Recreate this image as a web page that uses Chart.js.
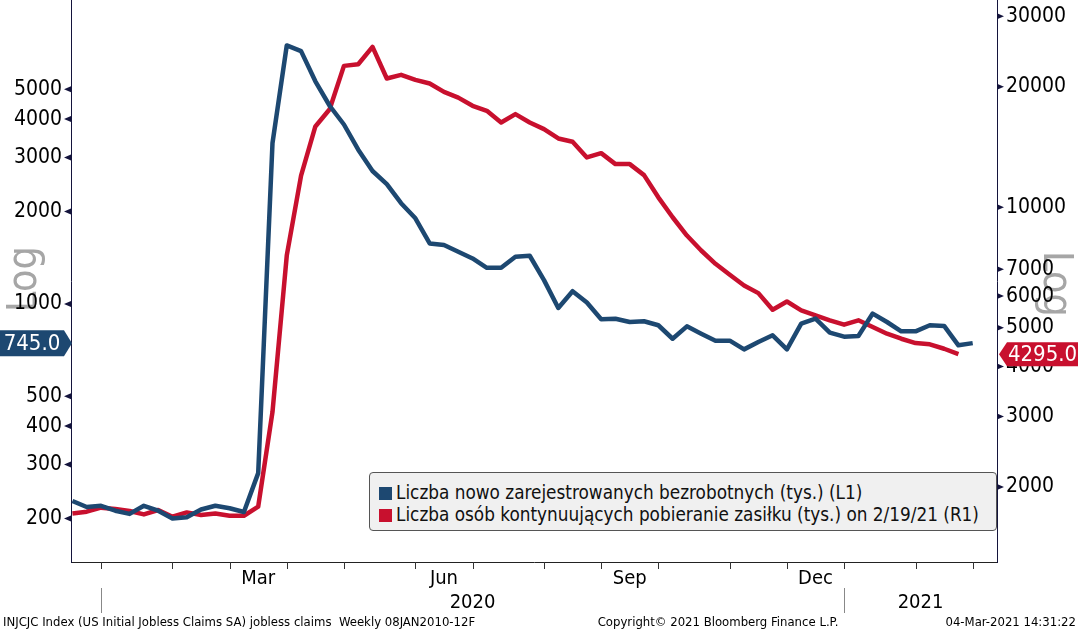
<!DOCTYPE html>
<html>
<head>
<meta charset="utf-8">
<script src="https://cdn.jsdelivr.net/npm/chart.js@4.4.1/dist/chart.umd.min.js"></script>
<style>
    body { margin: 0; background: #fff; }
    #wrap { position: relative; width: 1078px; height: 632px; }
    .legend {
        position: absolute; left: 369px; top: 472px; width: 626px; height: 57px;
        background: #f0f0f0; border: 1px solid #555; border-radius: 4px;
        font: 18.8px "DejaVu Sans Condensed", "DejaVu Sans", sans-serif; color: #111;
    }
    .legend div { position: absolute; left: 9px; white-space: nowrap; line-height: 20px; }
    .legend span { display: inline-block; width: 13px; height: 13px; margin-right: 4px; vertical-align: -1px; }
</style>
</head>
<body>
<div id="wrap">
    <canvas id="chart" width="1078" height="632"></canvas>
    <div class="legend" id="legend"></div>
</div>
<script>
document.addEventListener('DOMContentLoaded', () => {
    // weekly values, thousands (week dates are Fridays, starting 20 Dec 2019)
    const initialClaims = [
        228, 218, 220, 212, 207, 220, 212, 200, 202, 214, 220, 216, 210, 281,
        3340, 6950, 6660, 5310, 4420, 3840, 3180, 2710, 2455, 2128, 1900, 1574,
        1555, 1479, 1406, 1311, 1311, 1424, 1435, 1195, 970, 1100, 1010, 891,
        895, 873, 878, 852, 770, 845, 800, 759, 759, 711, 751, 790, 711, 862,
        896, 806, 782, 786, 930, 873, 814, 814, 852, 848, 733, 745
    ];
    const continuingClaims = [
        1718, 1735, 1776, 1762, 1742, 1708, 1752, 1686, 1728, 1702, 1718, 1695, 1695, 1786,
        3080, 7580, 12000, 15920, 17580, 22560, 22770, 25160, 20980, 21430, 20820, 20380,
        19430, 18800, 17930, 17420, 16290, 17090, 16290, 15680, 14860, 14580, 13325, 13655,
        12820, 12820, 12035, 10590, 9443, 8500, 7798, 7223, 6780, 6378, 6102, 5545, 5815,
        5527, 5370, 5218, 5088, 5218, 5020, 4831, 4694, 4579, 4545, 4431, 4295
    ];
    const leftTicks = [200, 300, 400, 500, 1000, 2000, 3000, 4000, 5000];
    const rightTicks = [2000, 3000, 4000, 5000, 6000, 7000, 10000, 20000, 30000];
    const monthNames = ['Jan', 'Feb', 'Mar', 'Apr', 'May', 'Jun', 'Jul', 'Aug', 'Sep', 'Oct', 'Nov', 'Dec'];
    const labeledMonths = ['Mar', 'Jun', 'Sep', 'Dec'];
    const seriesNames = [
        'Liczba nowo zarejestrowanych bezrobotnych (tys.) (L1)',
        'Liczba osób kontynuujących pobieranie zasiłku (tys.) on 2/19/21 (R1)'
    ];
    const footerLeft = 'INJCJC Index (US Initial Jobless Claims SA) jobless claims  Weekly 08JAN2010-12F';
    const footerMid = 'Copyright\u00A9 2021 Bloomberg Finance L.P.';
    const footerRight = '04-Mar-2021 14:31:22';

    const BLUE = '#1d4871';
    const RED = '#c8102e';
    const AXIS = '#14143c';
    const FONT = '"DejaVu Sans Condensed", "DejaVu Sans", sans-serif';

    const firstWeek = Date.UTC(2019, 11, 20);
    const weeks = initialClaims.map((_, i) => new Date(firstWeek + i * 7 * 86400000));

    // first week of each month
    const monthStarts = [];
    for (let i = 1; i < weeks.length; i++) {
        if (weeks[i].getUTCMonth() !== weeks[i - 1].getUTCMonth()) {
            monthStarts.push({ i, month: weeks[i].getUTCMonth(), year: weeks[i].getUTCFullYear() });
        }
    }

    // legend
    const legend = document.getElementById('legend');
    [BLUE, RED].forEach((c, k) => {
        const row = document.createElement('div');
        row.style.top = (10 + k * 22) + 'px';
        row.innerHTML = '<span style="background:' + c + '"></span>' + seriesNames[k];
        legend.appendChild(row);
    });

    function badge(ctx, x0, x1, tip, yc, h, color, text) {
        ctx.save();
        ctx.fillStyle = color;
        ctx.beginPath();
        if (tip > x1) {
            ctx.moveTo(x0, yc - h / 2); ctx.lineTo(x1, yc - h / 2); ctx.lineTo(tip, yc);
            ctx.lineTo(x1, yc + h / 2); ctx.lineTo(x0, yc + h / 2);
        } else {
            ctx.moveTo(x1, yc - h / 2); ctx.lineTo(x0, yc - h / 2); ctx.lineTo(tip, yc);
            ctx.lineTo(x0, yc + h / 2); ctx.lineTo(x1, yc + h / 2);
        }
        ctx.closePath();
        ctx.fill();
        ctx.fillStyle = '#fff';
        ctx.font = '22px ' + FONT;
        ctx.textAlign = 'center';
        ctx.textBaseline = 'middle';
        ctx.fillText(text, (x0 + x1) / 2, yc + 1);
        ctx.restore();
    }

    function logLabel(ctx, cx, cy, angle) {
        ctx.save();
        ctx.fillStyle = '#a6a6a6';
        ctx.font = '41px ' + FONT;
        ctx.textAlign = 'center';
        ctx.textBaseline = 'middle';
        ctx.translate(cx, cy);
        ctx.rotate(angle);
        ctx.fillText('Log', 0, 0);
        ctx.restore();
    }

    const bloombergBits = {
        id: 'bloombergBits',
        beforeDraw(chart) {
            logLabel(chart.ctx, 25, 279, -Math.PI / 2);
            logLabel(chart.ctx, 1055, 284, Math.PI / 2);
        },
        afterDraw(chart) {
            const { ctx, chartArea: a, scales: { x, yL, yR } } = chart;
            ctx.save();
            // axis tick arrows
            ctx.fillStyle = AXIS;
            leftTicks.forEach(v => {
                const y = yL.getPixelForValue(v);
                ctx.beginPath();
                ctx.moveTo(a.left, y - 3); ctx.lineTo(a.left - 7, y); ctx.lineTo(a.left, y + 3);
                ctx.fill();
            });
            rightTicks.forEach(v => {
                const y = yR.getPixelForValue(v);
                ctx.beginPath();
                ctx.moveTo(a.right, y - 3); ctx.lineTo(a.right + 7, y); ctx.lineTo(a.right, y + 3);
                ctx.fill();
            });

            // month ticks, month labels, year labels
            ctx.strokeStyle = '#333';
            ctx.lineWidth = 1;
            ctx.fillStyle = '#000';
            ctx.font = '20px ' + FONT;
            ctx.textAlign = 'center';
            ctx.textBaseline = 'middle';
            monthStarts.forEach((m, k) => {
                const px = Math.round(x.getPixelForValue(m.i)) + 0.5;
                ctx.beginPath();
                ctx.moveTo(px, a.bottom); ctx.lineTo(px, a.bottom + 7);
                ctx.stroke();
                const next = k + 1 < monthStarts.length ? monthStarts[k + 1].i : null;
                const name = monthNames[m.month];
                if (next !== null && labeledMonths.includes(name)) {
                    ctx.fillText(name, x.getPixelForValue((m.i + next) / 2), a.bottom + 17);
                }
            });
            const yearStarts = monthStarts.filter(m => m.month === 0);
            ctx.strokeStyle = '#888';
            yearStarts.forEach((m, k) => {
                const px = Math.round(x.getPixelForValue(m.i)) + 0.5;
                ctx.beginPath();
                ctx.moveTo(px, a.bottom + 26); ctx.lineTo(px, a.bottom + 51);
                ctx.stroke();
                const end = k + 1 < yearStarts.length ? yearStarts[k + 1].i : x.max;
                ctx.fillText(String(m.year), x.getPixelForValue((m.i + end) / 2), a.bottom + 41);
            });

            // footer
            ctx.font = '13px ' + FONT;
            ctx.textAlign = 'left';
            ctx.fillText(footerLeft, 3, 623);
            ctx.textAlign = 'center';
            ctx.fillText(footerMid, 718, 623);
            ctx.textAlign = 'right';
            ctx.fillText(footerRight, 1076, 623);
            ctx.restore();

            // last value badges
            const lastL = initialClaims[initialClaims.length - 1];
            const lastR = continuingClaims[continuingClaims.length - 1];
            badge(ctx, 0, 64, 72, yL.getPixelForValue(lastL), 26, BLUE, lastL.toFixed(1));
            badge(ctx, 1007, 1078, 999, yR.getPixelForValue(lastR), 24, RED, lastR.toFixed(1));
        }
    };

    const tickFont = { family: FONT, size: 21 };

    new Chart(document.getElementById('chart'), {
        type: 'line',
        data: {
            datasets: [{
                label: seriesNames[0],
                data: initialClaims.map((v, i) => ({ x: i, y: v })),
                yAxisID: 'yL',
                borderColor: BLUE,
                borderWidth: 4.5,
                borderJoinStyle: 'round',
                pointRadius: 0,
                tension: 0
            }, {
                label: seriesNames[1],
                data: continuingClaims.map((v, i) => ({ x: i, y: v })),
                yAxisID: 'yR',
                borderColor: RED,
                borderWidth: 4.5,
                borderJoinStyle: 'round',
                pointRadius: 0,
                tension: 0
            }]
        },
        options: {
            responsive: false,
            animation: false,
            events: [],
            layout: { padding: 0 },
            plugins: { legend: { display: false }, tooltip: { enabled: false } },
            scales: {
                x: {
                    type: 'linear', min: -0.1, max: 64.7,
                    grid: { display: false, drawTicks: false },
                    border: { display: true, color: '#222', width: 1 },
                    ticks: { display: false },
                    afterFit: s => { s.height = 70; s.paddingLeft = 0; s.paddingRight = 0; }
                },
                yL: {
                    type: 'logarithmic', position: 'left', min: 144.3, max: 9770, bounds: 'data',
                    afterBuildTicks: s => { s.ticks = leftTicks.map(v => ({ value: v })); },
                    afterFit: s => { s.width = 71; s.paddingTop = 0; s.paddingBottom = 0; },
                    grid: { display: false, drawTicks: false },
                    border: { display: true, color: AXIS, width: 1 },
                    ticks: { autoSkip: false, padding: 9, color: '#000', font: tickFont, callback: v => String(v) }
                },
                yR: {
                    type: 'logarithmic', position: 'right', min: 1299, max: 32960, bounds: 'data',
                    afterBuildTicks: s => { s.ticks = rightTicks.map(v => ({ value: v })); },
                    afterFit: s => { s.width = 81; s.paddingTop = 0; s.paddingBottom = 0; },
                    grid: { display: false, drawTicks: false },
                    border: { display: true, color: AXIS, width: 1 },
                    ticks: { autoSkip: false, padding: 9, color: '#000', font: tickFont, callback: v => String(v) }
                }
            }
        },
        plugins: [bloombergBits]
    });
});
</script>
</body>
</html>
